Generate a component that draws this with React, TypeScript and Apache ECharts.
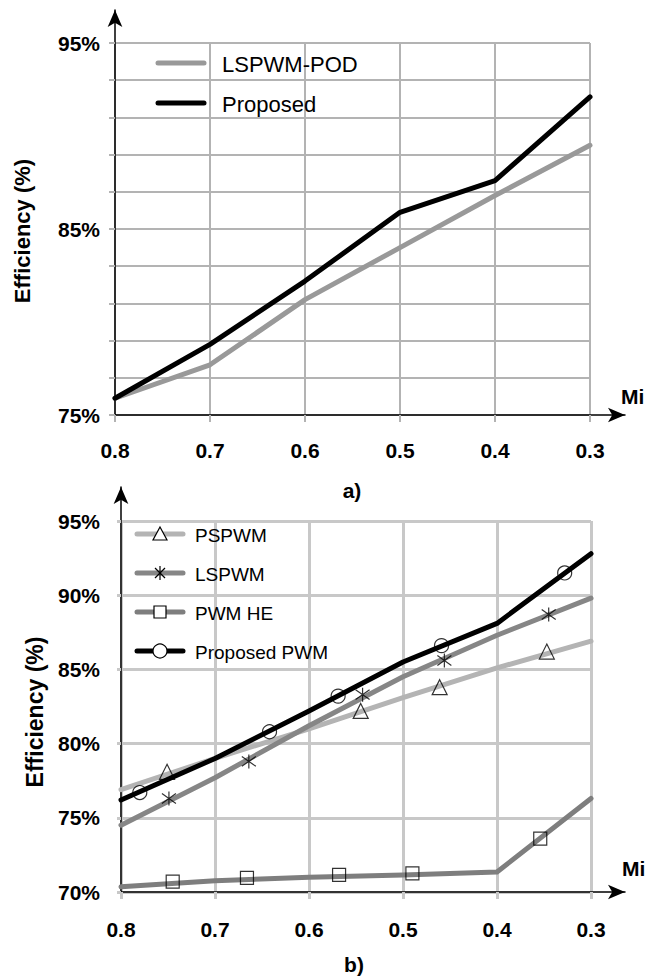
import React, { useEffect, useRef } from "react";
import * as echarts from "echarts";

// ---------- data ----------
const MI = [0.8, 0.7, 0.6, 0.5, 0.4, 0.3];

// chart a)
const A_LSPWM_POD = [75.9, 77.7, 81.2, 84.0, 86.8, 89.5];
const A_PROPOSED = [75.9, 78.8, 82.2, 85.9, 87.6, 92.1];

// chart b) lines
const B_PSPWM = [76.9, 79.0, 81.0, 83.1, 85.1, 86.9];
const B_LSPWM = [74.5, 77.7, 81.2, 84.5, 87.3, 89.8];
const B_PWM_HE = [70.35, 70.75, 71.0, 71.15, 71.35, 76.3];
const B_PROPOSED = [76.2, 79.0, 82.2, 85.5, 88.1, 92.8];

// chart b) markers
const PSPWM_MARK_MI = [0.751, 0.545, 0.461, 0.347];
const PSPWM_MARK_EFF = [78.1, 82.2, 83.8, 86.2];
const LSPWM_MARK_MI = [0.749, 0.664, 0.543, 0.456, 0.345];
const LSPWM_MARK_EFF = [76.3, 78.8, 83.3, 85.6, 88.7];
const PWMHE_MARK_MI = [0.745, 0.666, 0.568, 0.49, 0.354];
const PWMHE_MARK_EFF = [70.7, 70.95, 71.15, 71.25, 73.6];
const PROP_MARK_MI = [0.78, 0.642, 0.569, 0.459, 0.328];
const PROP_MARK_EFF = [76.7, 80.8, 83.2, 86.6, 91.5];

const A_NAMES = ["LSPWM-POD", "Proposed"];
const B_NAMES = ["PSPWM", "LSPWM", "PWM HE", "Proposed PWM"];

// ---------- styles ----------
const FONT = '"Liberation Sans", Arial, sans-serif';
const C_A_GRAY = "#999999";
const C_PSPWM = "#b4b4b4";
const C_LSPWM = "#868686";
const C_PWMHE = "#7e7e7e";
const C_BLACK = "#000000";
const ASTERISK = "path://M10,0L10,20M3,3L17,17M3,17L17,3";

const pairs = (xs: number[], ys: number[]) => xs.map((x, i) => [x, ys[i]]);

function buildOption() {
  const gridA = "#b3b3b3";
  const gridB = "#c8c8c8";
  const labelStyle = { fontFamily: FONT, fontWeight: "bold" as const, fontSize: 21, color: "#000" };

  const mainX = (gi: number, color: string, w: number, margin: number) => ({
    type: "value",
    gridIndex: gi,
    min: 0.3,
    max: 0.8,
    interval: 0.1,
    inverse: true,
    axisLine: { show: false },
    axisTick: { show: true, length: 7, lineStyle: { color, width: w } },
    axisLabel: { ...labelStyle, margin, formatter: (v: number) => v.toFixed(1) },
    splitLine: { show: true, lineStyle: { color, width: w } },
  });
  const arrowAxis = (gi: number) => ({
    type: "value",
    gridIndex: gi,
    min: 0,
    max: 1,
    axisLine: {
      show: true,
      onZero: false,
      symbol: ["none", "arrow"],
      symbolSize: [11, 17],
      lineStyle: { color: "#000", width: 1.5 },
    },
    axisTick: { show: false },
    axisLabel: { show: false },
    splitLine: { show: false },
  });

  const option: any = {
    animation: false,
    backgroundColor: "#ffffff",
    grid: [
      { left: 115, top: 43, width: 475, height: 372 },
      { left: 115, top: 10, width: 510, height: 405 },
      { left: 121, top: 521, width: 470, height: 371 },
      { left: 121, top: 487, width: 504, height: 405 },
    ],
    xAxis: [mainX(0, gridA, 2, 25), arrowAxis(1), mainX(2, gridB, 3, 27), arrowAxis(3)],
    yAxis: [
      {
        type: "value",
        gridIndex: 0,
        min: 75,
        max: 95,
        interval: 2,
        axisLine: { show: false },
        axisTick: { show: true, length: 6, lineStyle: { color: gridA, width: 2 } },
        axisLabel: {
          ...labelStyle,
          margin: 15,
          formatter: (v: number) => (v === 75 || v === 85 || v === 95 ? v + "%" : ""),
        },
        splitLine: { show: true, lineStyle: { color: gridA, width: 2 } },
      },
      arrowAxis(1),
      {
        type: "value",
        gridIndex: 2,
        min: 70,
        max: 95,
        interval: 5,
        axisLine: { show: false },
        axisTick: { show: true, length: 4, lineStyle: { color: gridB, width: 3 } },
        axisLabel: { ...labelStyle, margin: 21, formatter: (v: number) => v + "%" },
        splitLine: { show: true, lineStyle: { color: gridB, width: 3 } },
      },
      arrowAxis(3),
    ],
    series: [] as any[],
  };

  const line = (name: string, xi: number, ys: number[], color: string, z: number) => ({
    type: "line",
    name,
    xAxisIndex: xi,
    yAxisIndex: xi,
    data: pairs(MI, ys),
    symbol: "none",
    z,
    lineStyle: { color, width: 5, cap: "round", join: "round" },
  });
  const marks = (name: string, xs: number[], ys: number[], symbol: string, size: number) => ({
    type: "scatter",
    name,
    xAxisIndex: 2,
    yAxisIndex: 2,
    data: pairs(xs, ys),
    symbol,
    symbolSize: size,
    z: 10,
    itemStyle: { color: "transparent", borderColor: "#000", borderWidth: 1.2 },
  });

  option.series.push(
    line(A_NAMES[0], 0, A_LSPWM_POD, C_A_GRAY, 2),
    line(A_NAMES[1], 0, A_PROPOSED, C_BLACK, 3),
    line(B_NAMES[0], 2, B_PSPWM, C_PSPWM, 2),
    line(B_NAMES[1], 2, B_LSPWM, C_LSPWM, 3),
    line(B_NAMES[2], 2, B_PWM_HE, C_PWMHE, 4),
    line(B_NAMES[3], 2, B_PROPOSED, C_BLACK, 5),
    marks(B_NAMES[0] + " marker", PSPWM_MARK_MI, PSPWM_MARK_EFF, "triangle", 15),
    marks(B_NAMES[1] + " marker", LSPWM_MARK_MI, LSPWM_MARK_EFF, ASTERISK, 14),
    marks(B_NAMES[2] + " marker", PWMHE_MARK_MI, PWMHE_MARK_EFF, "rect", 13),
    marks(B_NAMES[3] + " marker", PROP_MARK_MI, PROP_MARK_EFF, "circle", 14)
  );

  // ----- graphic: legends, titles, axis names -----
  const g: any[] = [];
  const txt = (text: string, x: number, y: number, size: number, bold: boolean, extra: any = {}) => ({
    type: "text",
    x,
    y,
    z: 20,
    ...extra,
    style: {
      text,
      font: `${bold ? "bold " : ""}${size}px ${FONT}`,
      fill: "#000",
      align: extra.align || "left",
      verticalAlign: "middle",
    },
  });

  // legend a)
  const aColors = [C_A_GRAY, C_BLACK];
  A_NAMES.forEach((n, i) => {
    const y = 63 + i * 40;
    g.push({
      type: "line",
      z: 20,
      shape: { x1: 158, y1: y, x2: 204, y2: y },
      style: { stroke: aColors[i], lineWidth: 5, lineCap: "round" },
    });
    g.push(txt(n, 222, y + 1, 22, false));
  });

  // legend b)
  const bColors = [C_PSPWM, C_LSPWM, C_PWMHE, C_BLACK];
  const mk = { fill: "#fff", stroke: "#000", lineWidth: 1.2 };
  B_NAMES.forEach((n, i) => {
    const y = 534 + i * 39;
    g.push({
      type: "line",
      z: 20,
      shape: { x1: 137, y1: y, x2: 183, y2: y },
      style: { stroke: bColors[i], lineWidth: 5, lineCap: "round" },
    });
    const cx = 160;
    if (i === 0) {
      g.push({
        type: "polygon",
        z: 21,
        shape: { points: [[cx, y - 7], [cx + 7, y + 6], [cx - 7, y + 6]] },
        style: mk,
      });
    } else if (i === 1) {
      [
        [cx, y - 7, cx, y + 7],
        [cx - 5, y - 5, cx + 5, y + 5],
        [cx - 5, y + 5, cx + 5, y - 5],
      ].forEach(([x1, y1, x2, y2]) =>
        g.push({ type: "line", z: 21, shape: { x1, y1, x2, y2 }, style: { stroke: "#000", lineWidth: 1.2 } })
      );
    } else if (i === 2) {
      g.push({ type: "rect", z: 21, shape: { x: cx - 6, y: y - 6, width: 12, height: 12 }, style: mk });
    } else {
      g.push({ type: "circle", z: 21, shape: { cx, cy: y, r: 7 }, style: mk });
    }
    g.push(txt(n, 195, y + 1, 19, false));
  });

  // axis names and panel labels
  g.push(txt("Efficiency (%)", 22, 231, 22, true, { rotation: Math.PI / 2, align: "center" }));
  g.push(txt("Efficiency (%)", 35, 712, 23, true, { rotation: Math.PI / 2, align: "center" }));
  g.push(txt("Mi", 621, 396, 21, true));
  g.push(txt("Mi", 622, 868, 21, true));
  g.push(txt("a)", 352, 490, 21, true, { align: "center" }));
  g.push(txt("b)", 354, 964, 21, true, { align: "center" }));

  option.graphic = g;
  return option;
}

export default function App() {
  const ref = useRef<HTMLDivElement>(null);
  useEffect(() => {
    if (!ref.current) return;
    const chart = echarts.init(ref.current, undefined, { renderer: "svg" });
    chart.setOption(buildOption());
    return () => chart.dispose();
  }, []);
  return (
    <div
      ref={ref}
      style={{ position: "absolute", left: 0, top: 0, width: 645, height: 978, background: "#fff" }}
    />
  );
}
